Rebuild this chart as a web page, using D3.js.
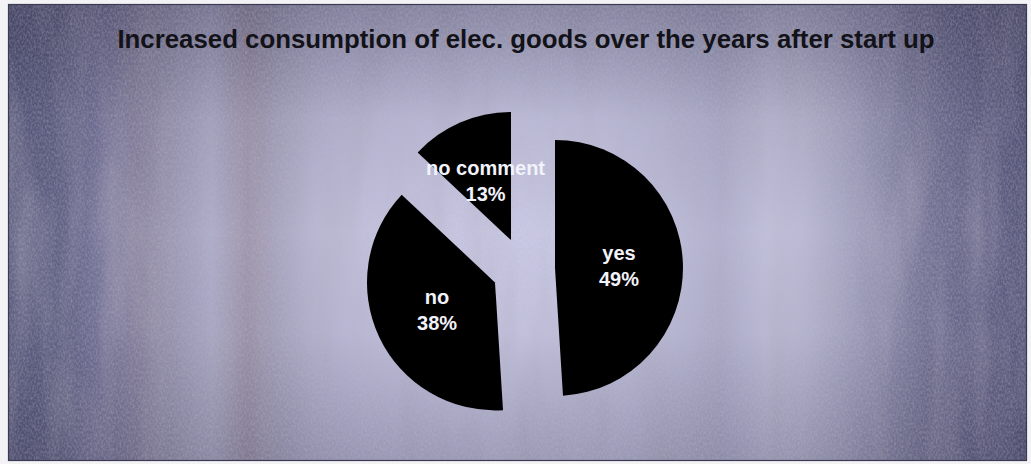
<!DOCTYPE html>
<html>
<head>
<meta charset="utf-8">
<script src="https://cdn.jsdelivr.net/npm/d3@7/dist/d3.min.js"></script>
<style>
  html, body { margin: 0; padding: 0; background: #f3f3f5; }
  svg { display: block; }
</style>
</head>
<body>
<svg id="chart" width="1031" height="464"></svg>
<script>
// Survey answers, share of respondents in percent
const categories = ["yes", "no", "no comment"];
const values = [49, 38, 13];
const chartTitle = "Increased consumption of elec. goods over the years after start up";

const W = 1031, H = 464;
const frame = { x: 8, y: 4, w: 1019, h: 457 };
const center = { x: 523.5, y: 269 };
const radius = 128;
const explode = 31.5;

const svg = d3.select("#chart");
const defs = svg.append("defs");

// Textured backdrop: vertical light/dark streaks
const streaks = [
  [0.00, "#58597d"], [0.05, "#616285"], [0.09, "#77759a"], [0.13, "#8d86a2"],
  [0.17, "#a19eba"], [0.20, "#aeacca"], [0.235, "#a096ad"], [0.27, "#aba8c4"],
  [0.30, "#b9b7d4"], [0.35, "#c2c0dd"], [0.42, "#c7c5e2"], [0.50, "#cac9e6"],
  [0.58, "#c7c6e3"], [0.65, "#bdbcd9"], [0.70, "#b2b1cf"], [0.745, "#c1c0dc"],
  [0.78, "#bcbbd7"], [0.82, "#a9a8c5"], [0.86, "#8f8eae"], [0.90, "#777698"],
  [0.95, "#646387"], [1.00, "#58587c"]
];
const lg = defs.append("linearGradient").attr("id", "streaks")
  .attr("x1", 0).attr("x2", 1).attr("y1", 0).attr("y2", 0);
lg.selectAll("stop").data(streaks).join("stop")
  .attr("offset", d => d[0]).attr("stop-color", d => d[1]);

// Darkening toward the top and bottom
const vg = defs.append("linearGradient").attr("id", "shade")
  .attr("x1", 0).attr("x2", 0).attr("y1", 0).attr("y2", 1);
[[0, 0.42], [0.1, 0.3], [0.25, 0.1], [0.5, 0.0], [0.72, 0.05], [0.88, 0.18], [1, 0.28]]
  .forEach(s => vg.append("stop").attr("offset", s[0])
    .attr("stop-color", "#2a2845").attr("stop-opacity", s[1]));

// Fine grain
const grain = defs.append("filter").attr("id", "grain")
  .attr("x", 0).attr("y", 0).attr("width", 1).attr("height", 1);
grain.append("feTurbulence").attr("type", "fractalNoise")
  .attr("baseFrequency", "0.55 0.35").attr("numOctaves", 2).attr("seed", 7);
grain.append("feColorMatrix").attr("type", "matrix")
  .attr("values", "0 0 0 0 0.5  0 0 0 0 0.5  0 0 0 0 0.55  1.6 0 0 0 -0.55");

// Soft cloudy streaks, stretched vertically
const cloud = defs.append("filter").attr("id", "cloud")
  .attr("x", 0).attr("y", 0).attr("width", 1).attr("height", 1);
cloud.append("feTurbulence").attr("type", "fractalNoise")
  .attr("baseFrequency", "0.03 0.006").attr("numOctaves", 3).attr("seed", 3);
cloud.append("feColorMatrix").attr("type", "matrix")
  .attr("values", "0 0 0 0 0.45  0 0 0 0 0.43  0 0 0 0 0.55  2.2 0 0 0 -0.9");

svg.append("rect")
  .attr("x", frame.x).attr("y", frame.y).attr("width", frame.w).attr("height", frame.h)
  .attr("fill", "url(#streaks)");
svg.append("rect")
  .attr("x", frame.x).attr("y", frame.y).attr("width", frame.w).attr("height", frame.h)
  .attr("filter", "url(#cloud)").attr("opacity", 0.35);
svg.append("rect")
  .attr("x", frame.x).attr("y", frame.y).attr("width", frame.w).attr("height", frame.h)
  .attr("fill", "url(#shade)");
svg.append("rect")
  .attr("x", frame.x).attr("y", frame.y).attr("width", frame.w).attr("height", frame.h)
  .attr("filter", "url(#grain)").attr("opacity", 0.42);
svg.append("rect")
  .attr("x", frame.x + 0.5).attr("y", frame.y + 0.5).attr("width", frame.w - 1).attr("height", frame.h - 1)
  .attr("fill", "none").attr("stroke", "#3a3a52").attr("stroke-width", 1.2);

// Title
svg.append("text")
  .attr("x", 526).attr("y", 48)
  .attr("text-anchor", "middle")
  .attr("font-family", "'Liberation Sans', Arial, sans-serif")
  .attr("font-weight", "bold")
  .attr("font-size", 25.8)
  .attr("fill", "#121218")
  .text(chartTitle);

// Exploded pie, clockwise from twelve o'clock
const pie = d3.pie().sort(null).value(d => d.value);
const arcs = pie(categories.map((c, i) => ({ label: c, value: values[i] })));
const arc = d3.arc().innerRadius(0).outerRadius(radius);

const slices = svg.append("g")
  .attr("transform", `translate(${center.x},${center.y})`)
  .selectAll("g").data(arcs).join("g")
  .attr("transform", d => {
    const a = (d.startAngle + d.endAngle) / 2;
    return `translate(${explode * Math.sin(a)},${-explode * Math.cos(a)})`;
  });

slices.append("path").attr("d", arc).attr("fill", "#000");

const labels = slices.append("text")
  .attr("transform", d => { const c = arc.centroid(d); return `translate(${c[0]},${c[1]})`; })
  .attr("text-anchor", "middle")
  .attr("font-family", "'Liberation Sans', Arial, sans-serif")
  .attr("font-weight", "bold")
  .attr("font-size", 20)
  .attr("fill", "#f2f2fa");
labels.append("tspan").attr("x", 0).attr("y", -6).text(d => d.data.label);
labels.append("tspan").attr("x", 0).attr("y", 20)
  .text(d => Math.round(d.value / d3.sum(values) * 100) + "%");
</script>
</body>
</html>
